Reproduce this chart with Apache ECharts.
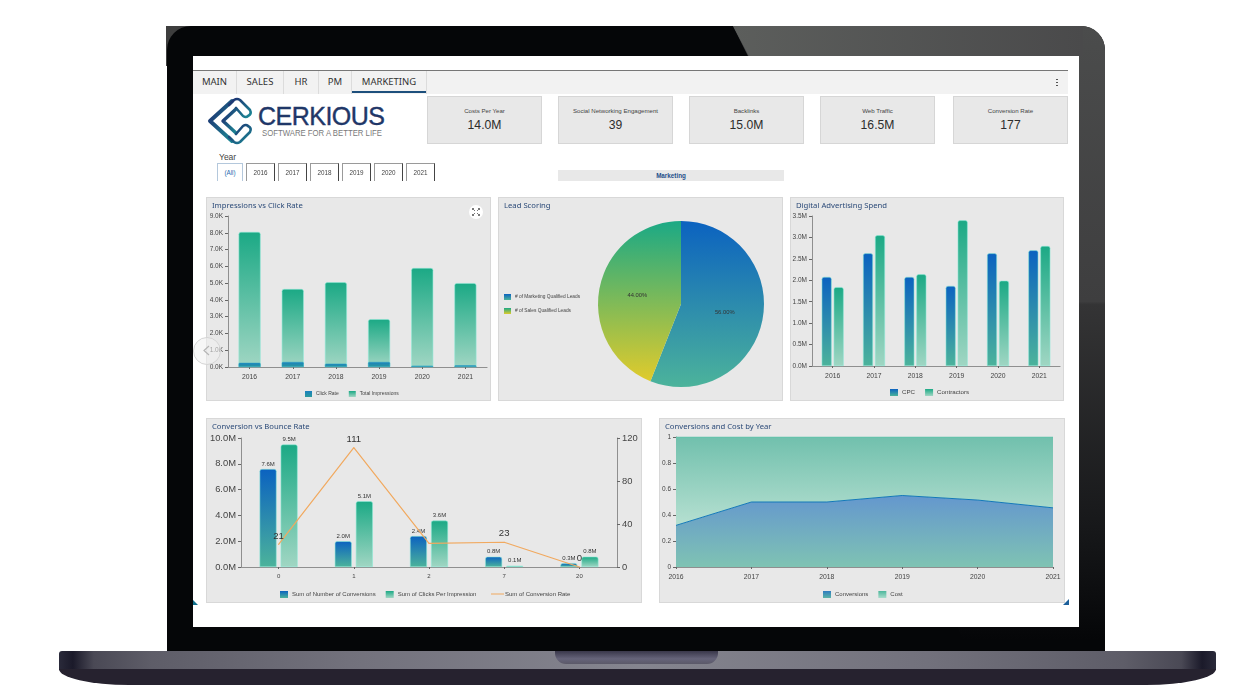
<!DOCTYPE html>
<html>
<head>
<meta charset="utf-8">
<title>Cerkious Marketing Dashboard</title>
<script src="https://cdn.jsdelivr.net/npm/echarts@6/dist/echarts.min.js"></script>
<style>
html, body { margin: 0; padding: 0; background: #fff; }
#page { position: relative; width: 1244px; height: 700px; overflow: hidden; font-family: "Liberation Sans", Arial, sans-serif; background: #fff; }
#page div, #page svg { position: absolute; box-sizing: border-box; }
#cornerBack { left: 166px; top: 26px; width: 40px; height: 40px; background: #3e3e3e; }
#lid { left: 167px; top: 26px; width: 938px; height: 626px; background: #050608; border-radius: 24px 24px 0 0; overflow: hidden; }
#lid #glare { left: 0; top: 0; width: 938px; height: 626px; clip-path: polygon(566px 0, 582px 32px, 800px 626px, 938px 626px, 938px 0);
  background: linear-gradient(180deg, #4b4c4c 0, #3e3e3f 44%, #343435 44.5%, #17181a 80%, #050608 98%); }
#glareTop { left: 733px; top: 26px; width: 350px; height: 30px; clip-path: polygon(0 0, 16px 30px, 350px 30px, 350px 0); background: linear-gradient(90deg, #5c5e5c 0, #4a4a4b 100%); }
#screen { left: 193px; top: 56px; width: 886px; height: 571px; background: #fff; }
#tabBar { left: 193px; top: 70px; width: 875px; height: 24px; background: #f2f2f2; border-top: 1px solid #777; }
.tab { top: 71px; height: 23px; line-height: 22px; text-align: center; font-family: "Noto Sans", sans-serif; font-size: 9.5px; color: #333; border-right: 1px solid #dcdcdc; }
#tabLine { left: 352px; top: 91px; width: 75px; height: 2px; background: #1d4f7c; }
#menuDots { left: 1056px; top: 78px; width: 2px; height: 8px; background: radial-gradient(circle, #555 45%, transparent 50%) 0 0 / 2px 3px repeat-y; }
.kpi { top: 96px; height: 48px; background: #e8e8e8; border: 1px solid #d6d6d6; text-align: center; color: #333; }
.kpiTitle { left: 0; right: 0; top: 10px; font-size: 6.1px; color: #444; }
.kpiValue { left: 0; right: 0; top: 20px; font-size: 13.5px; color: #2c2c2c; transform: scaleX(0.9); }
#yearLabel { left: 219px; top: 152px; font-size: 8.5px; color: #444; }
.yearBtn { top: 163px; height: 18px; border: 1px solid #9a9a9a; border-right-color: #444; border-bottom: 0; text-align: center; line-height: 17px; font-size: 6.3px; color: #444; background: #fff; }
.yearBtn.on { border-color: #b4c8dc; color: #2a6cb0; }
#sectionBar { left: 558px; top: 170px; width: 226px; height: 11px; background: #e8e8e8; text-align: center; line-height: 12px; font-size: 6.3px; font-weight: bold; color: #1f4f8a; }
.panel { background: #e8e8e8; border: 1px solid #d8d8d8; }
#expand { left: 469px; top: 205px; width: 14px; height: 14px; background: #fff; border-radius: 50%; }
#navBack { left: 193px; top: 337px; width: 28px; height: 28px; border-radius: 50%; border: 1px solid #d4d4d4; background: rgba(240,240,240,0.55); }
#markL { left: 193px; top: 600px; width: 5px; height: 5px; background: #0f6f8c; clip-path: polygon(0 0, 100% 100%, 0 100%); }
#markR { left: 1063px; top: 599px; width: 6px; height: 6px; background: #1c5f9a; clip-path: polygon(100% 0, 100% 100%, 0 100%); }
#baseTop { left: 59px; top: 651px; width: 1157px; height: 19px; border-radius: 3px 3px 0 0;
  background: linear-gradient(90deg, #2a2a3a 0, #1b1a2a 1.2%, #4a4955 3%, #5e5d68 8%, #72717c 25%, #85858f 50%, #72717c 75%, #5e5d68 92%, #4a4955 97%, #1b1a2a 98.8%, #2a2a3a 100%); }
#baseBottom { left: 59px; top: 669px; width: 1157px; height: 16px; background: #26222f; border-radius: 0 0 70px 70px / 0 0 16px 16px; }
#notch { left: 555px; top: 651px; width: 163px; height: 13px; border-radius: 0 0 11px 11px; background: linear-gradient(180deg, #39374a 0, #66647a 60%, #5b5968 100%); }
</style>
</head>
<body>
<div id="page">
  <div id="cornerBack"></div>
  <div id="lid"><div id="glare"></div></div>
  <div id="glareTop"></div>
  <div id="baseTop"></div>
  <div id="baseBottom"></div>
  <div id="notch"></div>
  <div id="screen"></div>
  <div id="tabBar"></div>
  <div id="tabLine"></div>
  <div id="menuDots"></div>
  <svg id="logo" style="left:200px;top:94px" width="200" height="54" viewBox="200 94 200 54">
    <defs>
      <linearGradient id="logoGrad" x1="0" y1="0" x2="1" y2="1">
        <stop offset="0" stop-color="#1d2a6e"></stop>
        <stop offset="1" stop-color="#1c8a96"></stop>
      </linearGradient>
    </defs>
    <g fill="none" stroke="url(#logoGrad)" stroke-linecap="round" stroke-linejoin="round">
      <path stroke-width="4" d="M232 101 L210 121 L232 141"></path>
      <path stroke-width="3.4" d="M236 109 L223 121 L236 133"></path>
      <path stroke-width="2.6" d="M229 105 L234 100 Q237 98 240 100 L250 110 Q252 114 248 116 Q246 118 243 116 L236 108"></path>
      <path stroke-width="2.6" d="M229 137 L234 142 Q237 144 240 142 L250 132 Q252 128 248 126 Q246 124 243 126 L236 134"></path>
    </g>
    <text x="258" y="125" font-family="Liberation Sans, Arial" font-size="25" fill="#1f3768" stroke="#1f3768" stroke-width="0.4" textLength="127" lengthAdjust="spacing">CERKIOUS</text>
    <text x="262" y="136" font-family="Liberation Sans, Arial" font-size="8.2" fill="#7a7a7a" textLength="120" lengthAdjust="spacingAndGlyphs">SOFTWARE FOR A BETTER LIFE</text>
  </svg>
  <div id="yearLabel">Year</div>
  <div id="sectionBar">Marketing</div>
  <div class="panel" id="p1" style="left:206px;top:197px;width:285px;height:204px"></div>
  <div class="panel" id="p2" style="left:498px;top:197px;width:285px;height:204px"></div>
  <div class="panel" id="p3" style="left:790px;top:197px;width:274px;height:204px"></div>
  <div class="panel" id="p4" style="left:206px;top:418px;width:436px;height:185px"></div>
  <div class="panel" id="p5" style="left:659px;top:418px;width:406px;height:185px"></div>
  <div id="expand">
    <svg style="left:3px;top:3px" width="8" height="8" viewBox="0 0 8 8" fill="none" stroke="#555" stroke-width="0.8">
      <path d="M0.5 2V0.5H2M0.5 0.5L3 3M6 0.5H7.5V2M7.5 0.5L5 3M7.5 6V7.5H6M7.5 7.5L5 5M2 7.5H0.5V6M0.5 7.5L3 5"></path>
    </svg>
  </div>
  <div id="navBack"></div>
  <svg style="left:203px;top:345px" width="7" height="11" viewBox="0 0 7 11" fill="none" stroke="#b5b5b5" stroke-width="1.2"><path d="M6 1L1 5.5L6 10"></path></svg>
  <div id="markL"></div>
  <div id="markR"></div>
</div>
<script>
var years = ["2016", "2017", "2018", "2019", "2020", "2021"];

var tabNames = ["MAIN", "SALES", "HR", "PM", "MARKETING"];
var kpiNames = ["Costs Per Year", "Social Networking Engagement", "Backlinks", "Web Traffic", "Conversion Rate"];
var kpiValues = ["14.0M", "39", "15.0M", "16.5M", "177"];
var yearButtons = ["(All)", "2016", "2017", "2018", "2019", "2020", "2021"];

// thousands
var clickRate = [0.25, 0.3, 0.2, 0.3, 0.08, 0.1];
var totalImpressions = [8.05, 4.65, 5.05, 2.85, 5.9, 5.0];

var leadNames = ["# of Marketing Qualified Leads", "# of Sales Qualified Leads"];
var leadValues = [56, 44];

// millions
var cpc = [2.08, 2.63, 2.08, 1.87, 2.63, 2.7];
var contractors = [1.84, 3.05, 2.14, 3.4, 1.99, 2.8];

var bounceCategories = ["0", "1", "2", "7", "20"];
var numberOfConversions = [7.6, 2.0, 2.4, 0.8, 0.3];
var clicksPerImpression = [9.5, 5.1, 3.6, 0.1, 0.8];
var conversionRate = [21, 111, 22, 23, 0];

var conversionsShare = [0.32, 0.5, 0.5, 0.55, 0.515, 0.455];
var costShare = [0.68, 0.5, 0.5, 0.45, 0.485, 0.545];

var page = document.getElementById("page");

function addBox(className, left, width, text) {
  var el = document.createElement("div");
  el.className = className;
  el.style.left = left + "px";
  el.style.width = width + "px";
  if (text) el.appendChild(document.createTextNode(text));
  page.appendChild(el);
  return el;
}

var tabX = [193, 237, 284, 319, 352, 427];
for (var t = 0; t < tabNames.length; t++) {
  addBox("tab", tabX[t], tabX[t + 1] - tabX[t], tabNames[t]);
}

var kpiX = [427, 558, 689, 820, 953];
for (var k = 0; k < kpiNames.length; k++) {
  var card = addBox("kpi", kpiX[k], 115, "");
  var title = document.createElement("div");
  title.className = "kpiTitle";
  title.appendChild(document.createTextNode(kpiNames[k]));
  var value = document.createElement("div");
  value.className = "kpiValue";
  value.appendChild(document.createTextNode(kpiValues[k]));
  card.appendChild(title);
  card.appendChild(value);
}

var buttonX = [217, 246, 278, 310, 342, 374, 406];
for (var b = 0; b < yearButtons.length; b++) {
  addBox(b == 0 ? "yearBtn on" : "yearBtn", buttonX[b], b == 0 ? 26 : 29, yearButtons[b]);
}

function gradient(top, bottom) {
  return new echarts.graphic.LinearGradient(0, 0, 0, 1, [
    { offset: 0, color: top },
    { offset: 1, color: bottom },
  ]);
}
var blueFill = gradient("#0b62c0", "#4cb39b");
var greenFill = gradient("#1ba985", "#a0d6c3");
var clickFill = gradient("#1a7fbf", "#2b9a9c");
var sandFill = gradient("#1ba985", "#e0cb2c");
var edge = "rgba(140,235,215,0.9)";

function chartTitle(text) {
  return {
    text: text,
    left: 6,
    top: 5,
    padding: 0,
    textStyle: { fontFamily: "Noto Sans", fontSize: 7.7, fontWeight: "normal", color: "#2b4a78" },
  };
}

function chartLegend(names, left, top, size, fontSize) {
  return {
    data: names,
    left: left,
    top: top,
    padding: 0,
    itemWidth: size,
    itemHeight: size - 1,
    itemGap: 10,
    icon: "rect",
    itemStyle: { borderWidth: 0 },
    textStyle: { fontFamily: "Liberation Sans", fontSize: fontSize, color: "#444", padding: [0, 0, 0, -1] },
  };
}

// each chart sits in its own div over the panel, grids are in panel pixels
function makeChart(panelId, option) {
  var panel = document.getElementById(panelId);
  var div = document.createElement("div");
  div.style.left = panel.style.left;
  div.style.top = panel.style.top;
  div.style.width = panel.style.width;
  div.style.height = panel.style.height;
  page.insertBefore(div, document.getElementById("expand"));
  var chart = echarts.init(div);
  option.animation = false;
  option.backgroundColor = "transparent";
  chart.setOption(option);
  return chart;
}

function catAxis(data, boundary, fontSize, margin) {
  return {
    type: "category",
    data: data,
    boundaryGap: boundary,
    axisLine: { lineStyle: { color: "#8f8f8f", width: 1.2 } },
    axisTick: { show: true, alignWithLabel: true, length: 2, lineStyle: { color: "#666" } },
    axisLabel: { fontFamily: "Liberation Sans", fontSize: fontSize, color: "#444", margin: margin, interval: 0, hideOverlap: false },
  };
}

function valAxis(max, interval, suffix, digits, size) {
  return {
    type: "value",
    min: 0,
    max: max,
    interval: interval,
    splitLine: { show: false },
    axisLine: { show: true, lineStyle: { color: "#8f8f8f", width: 1 } },
    axisTick: { show: true, length: 3, lineStyle: { color: "#666" } },
    axisLabel: {
      fontFamily: "Liberation Sans",
      fontSize: size,
      color: "#444",
      margin: 5,
      showMinLabel: true,
      showMaxLabel: true,
      hideOverlap: false,
      formatter: function (v) {
        return digits == null ? String(v) : v.toFixed(digits) + suffix;
      },
    },
  };
}

function barStyle(fill) {
  return { color: fill, borderColor: edge, borderWidth: 0.6, borderRadius: [2, 2, 0, 0] };
}

makeChart("p1", {
  title: chartTitle("Impressions vs Click Rate"),
  legend: chartLegend(["Click Rate", "Total Impressions"], 99, 194, 7, 5),
  grid: { left: 22, top: 19, width: 259, height: 151, outerBoundsMode: "none" },
  xAxis: catAxis(years, true, 6.8, 7),
  yAxis: valAxis(9, 1, "K", 1, 6.5),
  series: [
    { name: "Click Rate", type: "bar", data: clickRate, barWidth: 22, barGap: "-100%", z: 3, itemStyle: { color: clickFill, borderColor: "#29a5c4", borderWidth: 0.5, borderRadius: [1, 1, 0, 0] } },
    { name: "Total Impressions", type: "bar", data: totalImpressions, barWidth: 22, z: 2, itemStyle: barStyle(greenFill) },
  ],
});

var pieLegend = chartLegend(leadNames, 6, 97, 7, 4.8);
pieLegend.orient = "vertical";
pieLegend.itemGap = 8;

makeChart("p2", {
  title: chartTitle("Lead Scoring"),
  legend: pieLegend,
  series: [
    {
      type: "pie",
      center: [183, 107],
      radius: [0, 83],
      startAngle: 90,
      data: [
        { name: leadNames[0], value: leadValues[0], itemStyle: { color: blueFill } },
        { name: leadNames[1], value: leadValues[1], itemStyle: { color: sandFill } },
      ],
      label: {
        position: "inside",
        fontFamily: "Liberation Sans",
        fontSize: 5.8,
        color: "#333",
        formatter: function (p) { return p.value.toFixed(2) + "%"; },
      },
      labelLine: { show: false },
    },
  ],
});

makeChart("p3", {
  title: chartTitle("Digital Advertising Spend"),
  legend: chartLegend(["CPC", "Contractors"], 100, 192, 8, 6.2),
  grid: { left: 22, top: 19, width: 248, height: 150, outerBoundsMode: "none" },
  xAxis: catAxis(years, true, 6.8, 7),
  yAxis: valAxis(3.5, 0.5, "M", 1, 6.5),
  series: [
    { name: "CPC", type: "bar", data: cpc, barWidth: 10, barGap: "20%", itemStyle: barStyle(blueFill) },
    { name: "Contractors", type: "bar", data: contractors, barWidth: 10, itemStyle: barStyle(greenFill) },
  ],
});

var barLabel = {
  show: true,
  position: "top",
  distance: 2,
  fontFamily: "Liberation Sans",
  fontSize: 6,
  color: "#333",
  formatter: function (p) { return p.value.toFixed(1) + "M"; },
};

// the label of the third point is covered in the picture, so only that one is off
var rateData = [];
for (var r = 0; r < conversionRate.length; r++) {
  rateData.push(r == 2 ? { value: conversionRate[r], label: { show: false } } : conversionRate[r]);
}

var lineLegend = chartLegend(["Sum of Conversion Rate"], 285, 173, 13, 6);
lineLegend.itemHeight = 1;
lineLegend.textStyle.padding = [0, 0, 0, -4];

makeChart("p4", {
  title: chartTitle("Conversion vs Bounce Rate"),
  legend: [chartLegend(["Sum of Number of Conversions", "Sum of Clicks Per Impression"], 74, 173, 8, 6), lineLegend],
  grid: { left: 35, top: 20, width: 376, height: 129, outerBoundsMode: "none" },
  xAxis: catAxis(bounceCategories, true, 6, 6),
  yAxis: [valAxis(10, 2, "M", 1, 9.4), valAxis(120, 40, "", null, 9.4)],
  series: [
    { name: "Sum of Number of Conversions", type: "bar", data: numberOfConversions, barWidth: 17, barGap: "24%", label: barLabel, itemStyle: barStyle(blueFill) },
    { name: "Sum of Clicks Per Impression", type: "bar", data: clicksPerImpression, barWidth: 17, label: barLabel, itemStyle: barStyle(greenFill) },
    {
      name: "Sum of Conversion Rate",
      type: "line",
      yAxisIndex: 1,
      data: rateData,
      showSymbol: true,
      showAllSymbol: true,
      symbol: "circle",
      symbolSize: 1,
      z: 5,
      lineStyle: { color: "#f1a95f", width: 1.2 },
      itemStyle: { color: "#f1a95f" },
      label: { show: true, position: "top", distance: 3, fontFamily: "Liberation Sans", fontSize: 9.6, color: "#333" },
      labelLayout: { hideOverlap: false },
    },
  ],
});

makeChart("p5", {
  title: chartTitle("Conversions and Cost by Year"),
  legend: chartLegend(["Conversions", "Cost"], 164, 173, 8, 6),
  grid: { left: 17, top: 19, width: 377, height: 130, outerBoundsMode: "none" },
  xAxis: catAxis(years, false, 6.8, 7),
  yAxis: valAxis(1, 0.2, "", null, 6.5),
  series: [
    { name: "Conversions", type: "line", stack: "share", data: conversionsShare, symbol: "none", lineStyle: { color: "#1278b8", width: 1 }, itemStyle: { color: gradient("#2f7cc0", "#5bb4a6") }, areaStyle: { color: gradient("#6497ce", "#7fc3b3"), opacity: 1 } },
    { name: "Cost", type: "line", stack: "share", data: costShare, symbol: "none", lineStyle: { color: "#5cc4aa", width: 1 }, itemStyle: { color: gradient("#4db79c", "#a8dccb") }, areaStyle: { color: gradient("#71c0ad", "#b6e0d1"), opacity: 1 } },
  ],
});
</script>
</body>
</html>
